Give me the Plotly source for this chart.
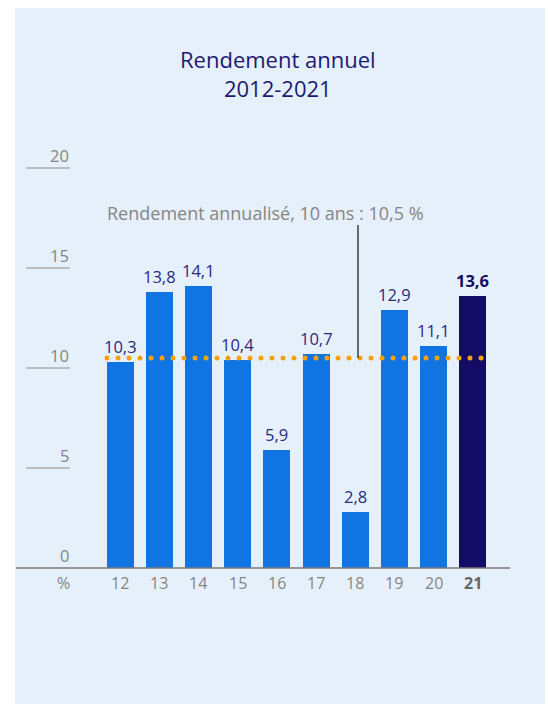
import numpy as np
import plotly.graph_objects as go

# Annual returns, 2012-2021 (%)
years = [12, 13, 14, 15, 16, 17, 18, 19, 20, 21]
returns = [10.3, 13.8, 14.1, 10.4, 5.9, 10.7, 2.8, 12.9, 11.1, 13.6]
annualized = 10.5
y_ticks = [0, 5, 10, 15, 20]

W, H = 548, 704
PX_PER_UNIT = 20.0          # vertical scale
ZERO_PX = 568               # baseline, px from top
X0_PX, STEP_PX = 120, 39.2  # first bar centre, bar pitch

def px_x(p):
    return years[0] + (p - X0_PX) / STEP_PX

def px_y(p):
    return (ZERO_PX - p) / PX_PER_UNIT

FONT = "Open Sans"
BLUE = "#1174E3"
NAVY = "#130C64"
LABEL = "#2A2A7E"
GREY = "#858585"

colors = [BLUE] * (len(years) - 1) + [NAVY]
fig = go.Figure()
fig.add_trace(go.Bar(
    x=years, y=returns, width=27 / STEP_PX,
    marker=dict(color=colors, line=dict(width=0)),
    hoverinfo="skip",
))

# dotted line for the 10-year annualized return
dots_x = np.arange(px_x(107), px_x(489), 11 / STEP_PX)
fig.add_trace(go.Scatter(
    x=dots_x, y=[annualized] * len(dots_x), mode="markers",
    marker=dict(color="#F7A20C", size=5), hoverinfo="skip",
))

shapes = []
annotations = []

# value labels above each bar
for i, (yr, v) in enumerate(zip(years, returns)):
    last = i == len(years) - 1
    label = f"{v:.1f}".replace(".", ",")
    annotations.append(dict(x=yr, y=v, text=f"<b>{label}</b>" if last else label,
                            showarrow=False, xanchor="center", yanchor="middle",
                            yshift=16,
                            font=dict(family=FONT, size=16.5,
                                      color=NAVY if last else LABEL)))

# panel background
shapes.append(dict(type="rect", xref="paper", yref="paper",
                   x0=15 / W, x1=545 / W, y0=0, y1=1 - 8 / H,
                   fillcolor="#E6F0FA", line=dict(width=0), layer="below"))

# baseline
shapes.append(dict(type="line", xref="paper", yref="y",
                   x0=16 / W, x1=510 / W, y0=0, y1=0,
                   line=dict(color="#7A7A7A", width=1.3)))

# y tick segments with labels sitting on top of them
for t in y_ticks:
    if t > 0:
        shapes.append(dict(type="line", xref="paper", yref="y",
                           x0=26 / W, x1=70 / W, y0=t, y1=t,
                           line=dict(color="#8C8C8C", width=1)))
    annotations.append(dict(x=71 / W, xref="paper", y=t, yref="y",
                            text=str(t), showarrow=False, xanchor="right",
                            yanchor="middle", yshift=12.5,
                            font=dict(family=FONT, size=16.5, color=GREY)))

# x category labels
for i, yr in enumerate(years):
    last = i == len(years) - 1
    annotations.append(dict(x=yr, y=0, text=f"<b>{yr}</b>" if last else str(yr),
                            showarrow=False, xanchor="center", yanchor="middle",
                            yshift=-15,
                            font=dict(family=FONT, size=16,
                                      color="#666666" if last else GREY)))
annotations.append(dict(x=63 / W, xref="paper", y=0, text="%", showarrow=False,
                        xanchor="center", yanchor="middle", yshift=-15,
                        font=dict(family=FONT, size=16, color=GREY)))

# callout for the annualized return
shapes.append(dict(type="line", x0=px_x(358), x1=px_x(358),
                   y0=annualized, y1=px_y(225),
                   line=dict(color="#111111", width=1.2)))
annotations.append(dict(x=px_x(105), y=px_y(213), xanchor="left", yanchor="middle",
                        text="Rendement annualisé, 10 ans : 10,5 %", showarrow=False,
                        font=dict(family=FONT, size=18, color=GREY)))

# title
annotations.append(dict(x=278 / W, xref="paper", y=1 - 73 / H, yref="paper",
                        text="Rendement annuel<br>2012-2021", showarrow=False,
                        xanchor="center", yanchor="middle",
                        font=dict(family=FONT, size=22, color="#1B1A73")))

fig.update_layout(
    width=W, height=H, margin=dict(l=0, r=0, t=0, b=0),
    paper_bgcolor="white", plot_bgcolor="rgba(0,0,0,0)",
    showlegend=False, shapes=shapes, annotations=annotations,
    xaxis=dict(range=[px_x(0), px_x(W)], visible=False, fixedrange=True),
    yaxis=dict(range=[px_y(H), px_y(0)], visible=False, fixedrange=True),
    bargap=0,
)

fig.write_html("out.html")
